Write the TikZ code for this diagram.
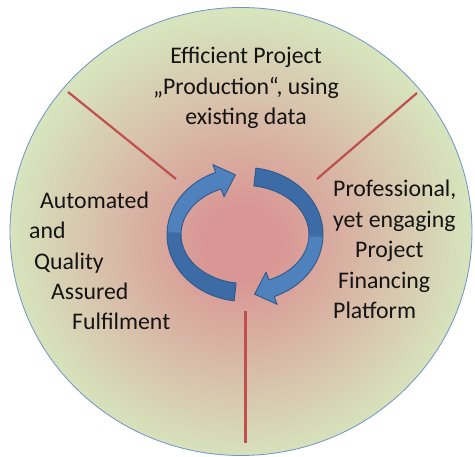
\documentclass[tikz,border=0pt]{standalone}
\usepackage{fontspec}
\setmainfont{Carlito}
\definecolor{discpink}{HTML}{D99694}
\definecolor{discgreen}{HTML}{D7E4BD}
\definecolor{discrim}{HTML}{6F94C8}
\definecolor{spoke}{HTML}{C0504D}
\definecolor{arrowlight}{HTML}{4F81BD}
\definecolor{arrowdark}{HTML}{3D6BA6}
\definecolor{arrowline}{HTML}{2F5A8E}
\definecolor{textc}{HTML}{141414}
% pink core fading into a pale green rim (rim of the disc sits near 35bp)
\pgfdeclareradialshading{discshade}{\pgfpoint{0bp}{-1.5bp}}{%
  color(0bp)=(discpink); color(4bp)=(discpink);
  color(25bp)=(discgreen); color(50bp)=(discgreen)}
\tikzset{
  txt/.style={font=\fontsize{23.8}{30}\selectfont, text=textc, inner sep=0pt},
  spokeline/.style={draw=spoke, line width=2.2pt},
  arrowbody/.style={fill=arrowlight},
  arrowshade/.style={fill=arrowdark},
  arrowedge/.style={draw=arrowline, line width=0.9pt, line join=round},
}
% one curved block arrow of the cycle, drawn around the origin
\newcommand{\cyclearrow}{%
  \path[arrowbody] (262:78 and 67)
    arc[start angle=262, end angle=112, x radius=78pt, y radius=67pt]
    -- (-32.2,69.9) -- (-9.6,59.7) -- (-21.0,37.7)
    -- (112:64 and 49)
    arc[start angle=112, end angle=262, x radius=64pt, y radius=49pt] -- cycle;
  \path[arrowshade] (262:78 and 67)
    arc[start angle=262, end angle=178, x radius=78pt, y radius=67pt]
    -- (178:64 and 49)
    arc[start angle=178, end angle=262, x radius=64pt, y radius=49pt] -- cycle;
  \path[arrowedge] (262:78 and 67)
    arc[start angle=262, end angle=112, x radius=78pt, y radius=67pt]
    -- (-32.2,69.9) -- (-9.6,59.7) -- (-21.0,37.7)
    -- (112:64 and 49)
    arc[start angle=112, end angle=262, x radius=64pt, y radius=49pt] -- cycle;
}
\begin{document}
\begin{tikzpicture}[x=1pt, y=1pt]
  \useasboundingbox (0,0) rectangle (475,457);

  % background disc
  \path[shading=discshade, draw=discrim, line width=0.8pt]
    (241,225.5) ellipse [x radius=231pt, y radius=224pt];

  % dividing spokes
  \coordinate (ulA) at (68,365);
  \coordinate (ulB) at (176,278);
  \coordinate (urA) at (417,364);
  \coordinate (urB) at (317,278);
  \coordinate (bA) at (245.5,146);
  \coordinate (bB) at (245.5,14);
  \draw[spokeline] (ulA) -- (ulB);
  \draw[spokeline] (urA) -- (urB);
  \draw[spokeline] (bA) -- (bB);

  % cycle arrows
  \begin{scope}[shift={(245,222.5)}]
    \cyclearrow
  \end{scope}
  \begin{scope}[shift={(245,222.5)}, rotate=180]
    \cyclearrow
  \end{scope}

  % top label
  \node[txt, anchor=base] (top1) at (246,393) {Efficient Project};
  \node[txt, anchor=base] (top2) at (246,362.5) {„Production“, using};
  \node[txt, anchor=base] (top3) at (246,332) {existing data};

  % left label
  \node[txt, anchor=base west] (left1) at (40,248) {Automated};
  \node[txt, anchor=base west] (left2) at (29,218) {and};
  \node[txt, anchor=base west] (left3) at (34,187.5) {Quality};
  \node[txt, anchor=base west] (left4) at (51,157) {Assured};
  \node[txt, anchor=base west] (left5) at (72,127) {Fulfilment};

  % right label
  \node[txt, anchor=base west] (right1) at (333,260) {Professional,};
  \node[txt, anchor=base west] (right2) at (333,229.5) {yet engaging};
  \node[txt, anchor=base west] (right3) at (355,199) {Project};
  \node[txt, anchor=base west] (right4) at (338,168.5) {Financing};
  \node[txt, anchor=base west] (right5) at (333,138) {Platform};
\end{tikzpicture}
\end{document}
